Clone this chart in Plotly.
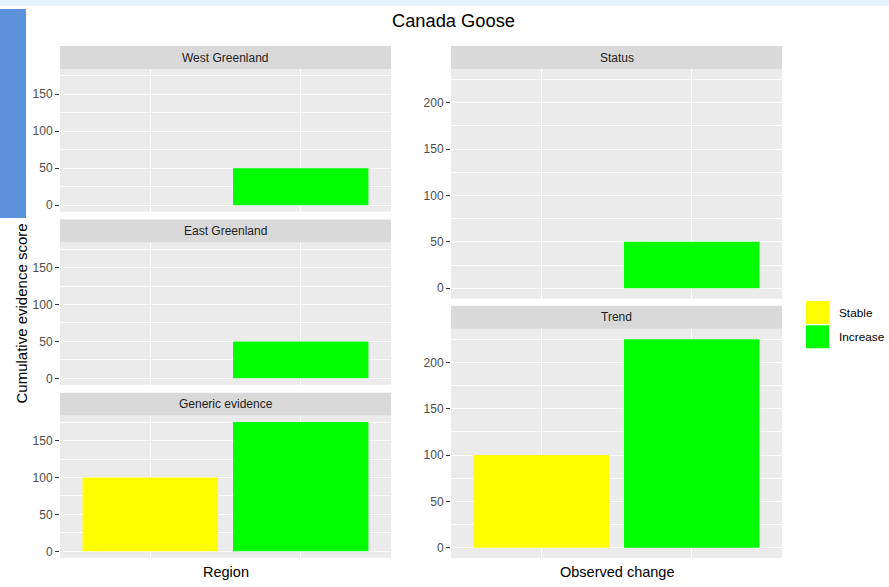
import plotly.graph_objects as go

# Canvas size in pixels
W, H = 889, 587


def fx(x):
    return x / W


def fy(y):
    return 1 - y / H


# ---- data ----
categories = ["Stable", "Increase"]
bar_colors = ["#FFFF00", "#00FF00"]

west_greenland = [None, 50]
east_greenland = [None, 50]
generic_evidence = [100, 175]
status = [None, 50]
trend = [100, 225]

left_ticks = [0, 50, 100, 150]
right_ticks = [0, 50, 100, 150, 200]

left_max = max(v for s in (west_greenland, east_greenland, generic_evidence) for v in s if v is not None)
right_max = max(v for s in (status, trend) for v in s if v is not None)
left_range = [-0.05 * left_max, 1.05 * left_max]
right_range = [-0.05 * right_max, 1.05 * right_max]

# panel: (strip label, values, x0, x1, strip_top, plot_top, plot_bottom, ticks, yrange)
panels = [
    ("West Greenland", west_greenland, 60, 391, 46, 69, 211.7, left_ticks, left_range),
    ("East Greenland", east_greenland, 60, 391, 219.5, 242.6, 384.8, left_ticks, left_range),
    ("Generic evidence", generic_evidence, 60, 391, 392.7, 415.6, 557.8, left_ticks, left_range),
    ("Status", status, 451, 782, 46, 69, 298.7, right_ticks, right_range),
    ("Trend", trend, 451, 782, 305.7, 328.8, 558.1, right_ticks, right_range),
]

fig = go.Figure()
shapes = []
annotations = []
layout_axes = {}

FONT = "Liberation Sans, Arial, sans-serif"
tick_font = dict(family=FONT, size=12, color="#4d4d4d")

for i, (label, vals, x0, x1, s_top, p_top, p_bot, ticks, yr) in enumerate(panels, start=1):
    xa = "x" if i == 1 else f"x{i}"
    ya = "y" if i == 1 else f"y{i}"
    fig.add_trace(go.Bar(
        x=categories, y=vals, marker=dict(color=bar_colors, line=dict(width=0)),
        width=0.9, xaxis=xa, yaxis=ya, showlegend=False, hoverinfo="x+y",
    ))
    layout_axes[f"xaxis{'' if i == 1 else i}"] = dict(
        domain=[fx(x0), fx(x1)], anchor=ya, type="category",
        categoryorder="array", categoryarray=categories,
        range=[-0.6, 1.6], showticklabels=False, ticks="",
        showgrid=True, gridcolor="white", gridwidth=1.1, zeroline=False, showline=False,
    )
    step = ticks[1] - ticks[0]
    layout_axes[f"yaxis{'' if i == 1 else i}"] = dict(
        domain=[fy(p_bot), fy(p_top)], anchor=xa, range=yr,
        tickvals=ticks, ticks="outside", ticklen=4, tickwidth=1.1, tickcolor="#333333",
        tickfont=tick_font, showgrid=True, gridcolor="white", gridwidth=1.1,
        zeroline=False, showline=False,
        minor=dict(tick0=step / 2, dtick=step, showgrid=True, gridcolor="white", gridwidth=0.55, ticks=""),
    )
    # facet strip
    shapes.append(dict(type="rect", xref="paper", yref="paper",
                       x0=fx(x0), x1=fx(x1), y0=fy(p_top), y1=fy(s_top),
                       fillcolor="#d9d9d9", line=dict(width=0), layer="below"))
    annotations.append(dict(text=label, xref="paper", yref="paper",
                            x=fx((x0 + x1) / 2), y=fy((s_top + p_top) / 2),
                            showarrow=False, xanchor="center", yanchor="middle",
                            font=dict(family=FONT, size=12, color="#222222")))

# legend keys
for k, (cat, col) in enumerate(zip(categories, bar_colors)):
    top = 301 + k * 24.3
    shapes.append(dict(type="rect", xref="paper", yref="paper",
                       x0=fx(806), x1=fx(829), y0=fy(top + 23), y1=fy(top),
                       fillcolor=col, line=dict(width=0)))
    annotations.append(dict(text=cat, xref="paper", yref="paper",
                            x=fx(836.5), y=fy(top + 11.5), showarrow=False,
                            xanchor="left", yanchor="middle",
                            font=dict(family=FONT, size=11.8, color="#000000")))

# decorative background bands
shapes.insert(0, dict(type="rect", xref="paper", yref="paper", x0=0, x1=1,
                      y0=fy(6), y1=1, fillcolor="#e4f3fa", line=dict(width=0), layer="below"))
shapes.insert(1, dict(type="rect", xref="paper", yref="paper", x0=0, x1=fx(26),
                      y0=fy(218), y1=fy(9), fillcolor="#5b90da", line=dict(width=0), layer="below"))

title_font = dict(family=FONT, color="#000000")
annotations += [
    dict(text="Canada Goose", xref="paper", yref="paper", x=fx(453.5), y=fy(20.5),
         showarrow=False, xanchor="center", yanchor="middle", font=dict(size=18.3, **title_font)),
    dict(text="Region", xref="paper", yref="paper", x=fx(225.5), y=fy(572),
         showarrow=False, xanchor="center", yanchor="middle", font=dict(size=14.5, **title_font)),
    dict(text="Observed change", xref="paper", yref="paper", x=fx(616.5), y=fy(572),
         showarrow=False, xanchor="center", yanchor="middle", font=dict(size=14.5, **title_font)),
    dict(text="Cumulative evidence score", xref="paper", yref="paper", x=fx(21), y=fy(313.5),
         showarrow=False, xanchor="center", yanchor="middle", textangle=-90,
         font=dict(size=15, **title_font)),
]

fig.update_layout(
    width=W, height=H, margin=dict(l=0, r=0, t=0, b=0),
    paper_bgcolor="white", plot_bgcolor="#ebebeb",
    shapes=shapes, annotations=annotations, showlegend=False,
    bargap=0.1, **layout_axes,
)

fig.write_html("out.html")
